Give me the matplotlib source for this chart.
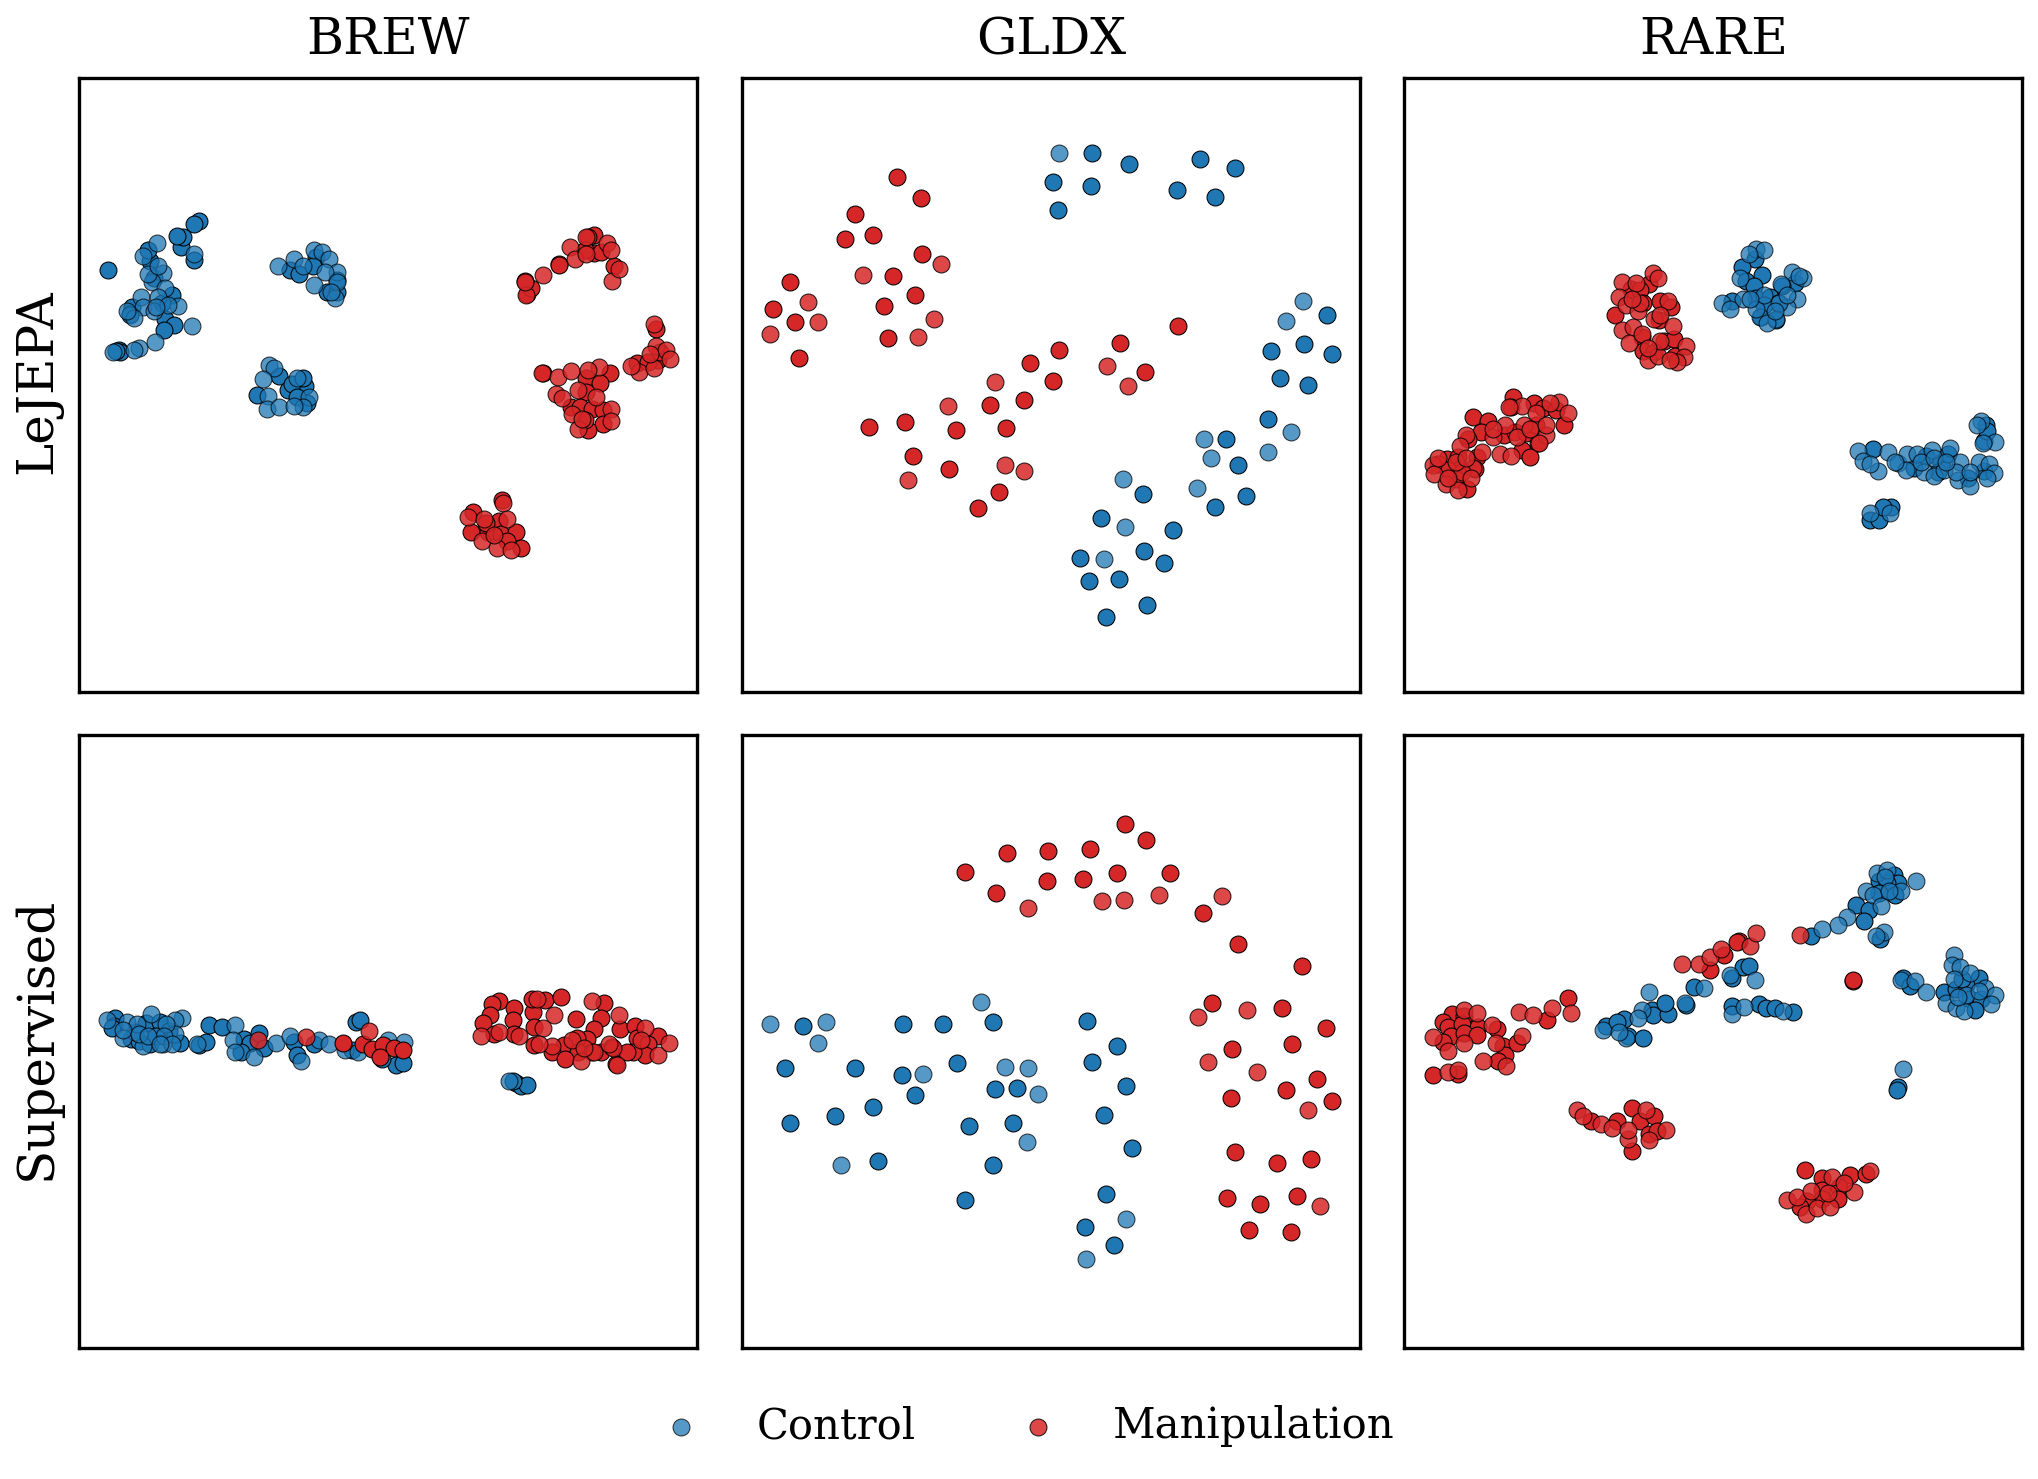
import matplotlib
matplotlib.use('Agg')
import matplotlib.pyplot as plt

brew_lejepa_control_faint = [(213,425),(180,455),(305,450),(228,497),(202,520),(232,535),(265,578),(175,555),(300,628),(208,667),(170,680),(158,685),(105,690),(215,555),(180,580),(205,590),(148,600),(158,608),(140,590),(190,500),(215,480),(240,575),(210,580),
    (510,481),(550,462),(598,440),(618,447),(635,462),(570,480),(653,495),(598,527),(625,495),(655,520),(650,558),(640,545),
    (487,722),(500,730),(473,757),(485,798),(482,830),(512,826),(555,755),(585,800),(570,825),(550,822)]
brew_lejepa_control_solid = [(94,491),(315,370),(305,378),(272,433),(278,410),(262,407),(303,466),(195,468),(190,440),(205,510),(250,551),(225,570),(152,580),(148,597),(232,610),(256,625),(230,637),(120,685),(122,692),(112,688),
    (540,490),(562,500),(602,458),(595,480),(630,545),(655,545),(655,515),
    (513,749),(458,796),(575,775),(580,815),(535,785),(545,770),(570,755),(555,800)]
brew_lejepa_manip_faint = [(1118,552),(1115,520),(1160,502),(1225,433),(1237,462),(1329,517),(1345,488),(1315,425),(1325,440),(1265,410),(1265,450),
    (1430,622),(1437,675),(1460,685),(1470,708),(1395,740),(1430,730),(1375,725),(1420,695),
    (1156,743),(1195,752),(1228,737),(1296,727),(1190,795),(1205,803),(1245,785),(1230,842),(1325,830),(1325,860),(1245,880),(1290,800),(1255,855),(1268,735),
    (975,1095),(1015,1100),(1060,1060),(1070,1100),(1010,1155),(1045,1172),(1080,1175),(1040,1140)]
brew_lejepa_manip_solid = [(1120,548),(1130,535),(1115,517),(1197,475),(1197,478),(1283,405),(1270,410),(1285,448),(1262,440),(1300,445),(1332,480),
    (1435,635),(1440,710),(1390,717),(1415,715),(1445,690),
    (1160,742),(1323,742),(1265,755),(1298,768),(1265,788),(1228,825),(1250,825),(1280,830),(1305,832),(1305,868),(1270,882),(1262,858),
    (1058,1053),(988,1082),(982,1132),(1025,1132),(1052,1105),(1057,1137),(1092,1133),(1105,1170),(1070,1155),(1020,1110)]

gldx_lejepa_control_faint = [(793,204),(1391,566),(1349,614),(1363,886),(1149,903),(1167,950),(1306,935),(951,1003),(1132,1025),(955,1120),(904,1199)]
gldx_lejepa_control_solid = [(875,204),(965,230),(1139,218),(1225,241),(778,274),(872,285),(1084,293),(1176,310),(791,344),(1451,600),(1393,672),(1314,689),(1462,697),(1335,754),(1404,772),(1307,856),(1203,905),(1233,968),(1000,1040),(1253,1044),(1175,1070),(897,1098),(1073,1128),(1002,1178),(845,1196),(1051,1207),(941,1248),(867,1252),(1010,1312),(909,1339)]
gldx_lejepa_manip_faint = [(504,476),(313,502),(179,569),(203,618),(487,611),(87,648),(448,653),(912,725),(963,774),(636,764),(522,822),(661,968),(708,983),(425,1005)]
gldx_lejepa_manip_solid = [(397,263),(456,313),(293,352),(339,405),(270,414),(459,450),(388,505),(134,520),(440,552),(365,577),(93,586),(146,617),(374,657),(158,705),(1086,628),(944,668),(794,687),(722,718),(1005,739),(779,763),(708,809),(625,821),(329,875),(417,862),(541,883),(663,877),(436,946),(525,977),(648,1035),(596,1073)]

rare_lejepa_control_faint = [(884,438),(905,440),(868,450),(845,510),(972,495),(1000,510),(985,560),(853,560),(800,570),(822,585),(960,580),(895,605),(933,610),(912,620),(885,585),(945,525),(990,505),(940,570),(905,550),(930,590),(870,560),(960,550),
    (1135,933),(1147,958),(1207,937),(1183,983),(1165,965),(1232,962),(1255,940),(1280,940),(1252,980),(1297,985),(1320,995),(1315,930),(1360,925),(1385,960),(1430,960),(1455,965),(1468,988),(1380,1005),(1410,1020),(1450,1000),(1345,980),(1435,860),(1425,870),(1470,912),(1440,915),(1290,960),(1320,950),(1375,985),(1410,985),(1350,960),(1225,960),
    (1165,1085),(1212,1085)]
rare_lejepa_control_solid = [(882,462),(850,482),(900,503),(860,518),(880,530),(980,522),(948,528),(885,558),(920,555),(825,565),(938,570),(897,605),(933,612),(905,575),
    (1171,929),(1272,975),(1300,945),(1337,960),(1330,985),(1355,940),(1404,1000),(1443,983),(1448,870),(1443,910),(1450,885),
    (1165,1103),(1187,1103),(1215,1070),(1195,1070)]
rare_lejepa_manip_faint = [(632,497),(645,510),(557,520),(590,523),(550,557),(565,575),(595,590),(670,565),(635,610),(682,628),(555,636),(583,630),(573,670),(605,648),(620,710),(645,700),(712,675),(708,703),(690,715),(675,710),(650,665),(600,570),(650,600),(580,560),(620,680),
    (403,813),(380,815),(423,840),(310,822),(280,825),(345,840),(315,870),(270,870),(370,895),(240,900),(258,940),(285,945),(352,915),(175,895),(160,920),(213,937),(92,968),(95,990),(125,1015),(155,1028),(105,950),(190,975),(165,985),(300,900),(330,880),(240,880),(370,870),(150,960),(130,1000),(175,950),(185,1000)]
rare_lejepa_manip_solid = [(622,524),(577,537),(600,540),(607,572),(650,565),(677,580),(648,613),(538,600),(605,655),(607,688),(660,665),(683,659),(687,700),(635,690),
    (289,801),(283,825),(340,816),(362,828),(395,833),(415,870),(191,851),(228,859),(210,888),(180,905),(268,895),(295,888),(320,890),(345,870),(350,915),(310,930),(330,947),(127,953),(155,948),(200,948),(195,978),(160,978),(105,965),(150,1003),(176,1027),(130,980)]

brew_sup_control_faint = [(90,710),(140,715),(198,695),(275,705),(258,710),(130,755),(180,775),(228,770),(258,745),(165,720),(235,720),(310,770),(405,722),(400,760),(405,790),(450,800),(565,810),(505,768),(540,750),(610,760),(635,770),(675,785),(705,790),(778,760),(818,765),(1075,860),(130,735),(170,745),(230,750),(190,750),(250,770),(220,770)]
brew_sup_control_solid = [(110,705),(108,725),(103,730),(150,758),(170,762),(185,717),(220,715),(243,738),(195,770),(270,768),(315,772),(333,765),(340,722),(373,728),(427,758),(440,768),(462,742),(475,780),(420,790),(548,765),(555,795),(597,770),(690,785),(700,715),(710,710),(798,820),(815,815),(765,805),(160,740),(210,750),
    (1092,865),(1105,872),(1120,870),(1085,860)]
brew_sup_manip_faint = [(460,760),(578,753),(733,737),
    (1008,750),(1050,740),(1100,750),(1185,698),(1280,663),(1345,697),(1160,730),(1252,812),(1340,820),(1440,795),(1468,768),(1410,730),(1330,780),(1230,760),(1285,790),(1145,660),(1180,775),(1150,770),(1260,780),(1320,770),(1400,760)]
brew_sup_manip_solid = [(668,767),(718,770),(740,782),(767,772),(795,778),(815,783),(760,800),
    (1052,663),(1035,672),(1028,697),(1013,718),(1040,745),(1088,680),(1085,710),(1088,745),(1135,692),(1138,728),(1163,662),(1132,660),(1202,655),(1308,670),(1240,708),(1300,705),(1285,732),(1267,758),(1243,755),(1210,772),(1180,790),(1138,772),(1245,788),(1213,805),(1300,790),(1328,777),(1278,790),(1348,733),(1385,725),(1390,755),(1440,750),(1415,770),(1410,795),(1380,790),(1338,818),(1365,788)]

gldx_sup_control_faint = [(87,721),(222,715),(604,667),(204,768),(461,843),(662,826),(717,827),(742,892),(716,1010),(261,1065),(958,1198),(861,1297)]
gldx_sup_control_solid = [(411,721),(509,720),(633,716),(167,726),(863,714),(937,773),(123,827),(295,828),(543,815),(874,813),(410,844),(440,895),(637,880),(692,878),(957,873),(244,945),(339,923),(136,962),(574,971),(682,963),(905,944),(973,1023),(351,1057),(632,1066),(910,1137),(563,1151),(858,1218),(928,1262)]
gldx_sup_manip_faint = [(719,437),(898,420),(953,417),(1040,404),(1192,406),(1135,703),(1255,686),(1158,813),(1278,838),(1403,930),(1434,1167)]
gldx_sup_manip_solid = [(956,231),(1008,270),(667,302),(767,296),(870,291),(564,349),(936,351),(1066,351),(765,371),(852,365),(640,400),(1147,448),(1233,525),(1388,579),(1169,670),(1340,680),(1449,731),(1217,782),(1365,769),(1426,855),(1350,882),(1216,902),(1462,908),(1225,1034),(1327,1062),(1410,1050),(1206,1147),(1287,1162),(1377,1142),(1260,1226),(1362,1229)]

rare_sup_control_faint = [(1276,369),(1180,350),(1205,342),(1155,395),(1170,405),(1240,395),(1192,432),(1108,458),(1085,477),(1047,487),(1198,495),(1178,505),(1200,360),(1210,395),
    (623,643),(605,685),(595,705),(510,735),(565,755),(550,740),(758,632),(710,670),(882,613),(820,600),(825,695),(855,678),(950,688),
    (1240,612),(1275,615),(1300,642),(1370,552),(1365,575),(1385,580),(1410,595),(1370,610),(1445,632),(1470,650),(1460,672),(1350,668),(1375,680),(1395,688),(1400,650),(1430,640),(1380,655),
    (1245,830)]
rare_sup_control_solid = [(1185,370),(1222,355),(1232,376),(1205,375),(1185,400),(1224,405),(1129,428),(1161,440),(1150,468),(1189,511),(1020,505),
    (518,725),(562,708),(545,715),(572,750),(607,754),(630,685),(632,698),(668,695),(662,668),(733,629),(712,673),(825,608),(853,580),(868,578),(825,677),(893,672),(910,680),(930,680),(975,692),
    (1245,607),(1262,628),(1345,641),(1430,608),(1375,635),(1400,625),(1410,660),(1437,660),(1420,685),(1390,610),
    (1232,875),(1230,882)]
rare_sup_manip_faint = [(168,685),(200,693),(93,752),(130,787),(238,722),(310,750),(248,768),(215,810),(272,822),(130,838),(155,832),(305,690),(338,699),(385,680),(430,694),(168,767),
    (703,573),(744,573),(773,555),(798,537),(870,530),(885,498),(992,502),
    (445,930),(460,945),(505,965),(532,975),(615,930),(665,980),(622,1005),(570,1002),(570,980),
    (960,1152),(985,1145),(1008,1185),(1035,1172),(1065,1168),(1125,1132),(1163,1080),(1070,1095),(1020,1130),(1100,1110),(1060,1135)]
rare_sup_manip_solid = [(139,695),(170,700),(118,716),(130,728),(165,720),(203,728),(137,750),(168,742),(200,748),(118,765),(251,733),(265,775),(270,795),(298,767),(252,812),(93,845),(155,843),(372,710),(425,657),
    (773,588),(805,550),(842,518),(838,520),(1122,614),(1122,612),
    (480,957),(545,958),(580,925),(600,957),(635,945),(622,990),(642,982),(580,1032),
    (1005,1078),(1047,1097),(1115,1090),(1155,1088),(1045,1127),(1045,1148),(1087,1120),(1085,1150),(1010,1155),(992,1168)]

datasets = ['BREW', 'GLDX', 'RARE']
methods = ['LeJEPA', 'Supervised']
panels = [
    [(brew_lejepa_control_faint, brew_lejepa_control_solid, brew_lejepa_manip_faint, brew_lejepa_manip_solid),
     (gldx_lejepa_control_faint, gldx_lejepa_control_solid, gldx_lejepa_manip_faint, gldx_lejepa_manip_solid),
     (rare_lejepa_control_faint, rare_lejepa_control_solid, rare_lejepa_manip_faint, rare_lejepa_manip_solid)],
    [(brew_sup_control_faint, brew_sup_control_solid, brew_sup_manip_faint, brew_sup_manip_solid),
     (gldx_sup_control_faint, gldx_sup_control_solid, gldx_sup_manip_faint, gldx_sup_manip_solid),
     (rare_sup_control_faint, rare_sup_control_solid, rare_sup_manip_faint, rare_sup_manip_solid)],
]

BLUE = '#1f77b4'
RED = '#d62728'
W, H = 2038, 1479
DPI = 300

plt.rcParams['font.family'] = 'DejaVu Serif'
fig = plt.figure(figsize=(W / DPI, H / DPI), dpi=DPI)

# frame edges in saved-image pixels, and where those sit in the data units above
col_px = [(79.4, 697.3), (742.3, 1360.3), (1404.4, 2022.3)]
row_px = [(78.2, 691.6), (734.9, 1348.4)]
col_lim = [(23, 1537), (18, 1532), (23, 1537)]
row_lim = [(20, 1523), (12, 1515)]


def draw(ax, pts, color, alpha, label=None):
    xs = [p[0] for p in pts]
    ys = [p[1] for p in pts]
    ax.scatter(xs, ys, s=16.5, c=color, alpha=alpha, edgecolors='black', linewidths=0.25, label=label)


for r in range(2):
    for c in range(3):
        x0, x1 = col_px[c]
        y0, y1 = row_px[r]
        ax = fig.add_axes([x0 / W, 1 - y1 / H, (x1 - x0) / W, (y1 - y0) / H])
        control_faint, control_solid, manip_faint, manip_solid = panels[r][c]
        # solid ones go under the faint ones, the dense clusters read softer that way
        draw(ax, control_solid, BLUE, 1.0)
        draw(ax, control_faint, BLUE, 0.75, 'Control')
        draw(ax, manip_solid, RED, 1.0)
        draw(ax, manip_faint, RED, 0.85, 'Manipulation')
        ax.set_xlim(col_lim[c])
        ax.set_ylim(row_lim[r][1], row_lim[r][0])
        ax.set_xticks([])
        ax.set_yticks([])
        for s in ax.spines.values():
            s.set_linewidth(0.8)
        if r == 0:
            ax.set_title(datasets[c], fontsize=12.1, pad=5.8)
        if c == 0:
            ax.set_ylabel(methods[r], fontsize=12, labelpad=4.2, y=0.506)
        if r == 0 and c == 0:
            handles, labels = ax.get_legend_handles_labels()

fig.legend(handles, labels, loc='center', bbox_to_anchor=(1017 / W, 1 - 1426.3 / H), ncol=2,
           frameon=False, fontsize=10, handletextpad=0.81, columnspacing=1.94)
fig.savefig('out.png', dpi=DPI)
